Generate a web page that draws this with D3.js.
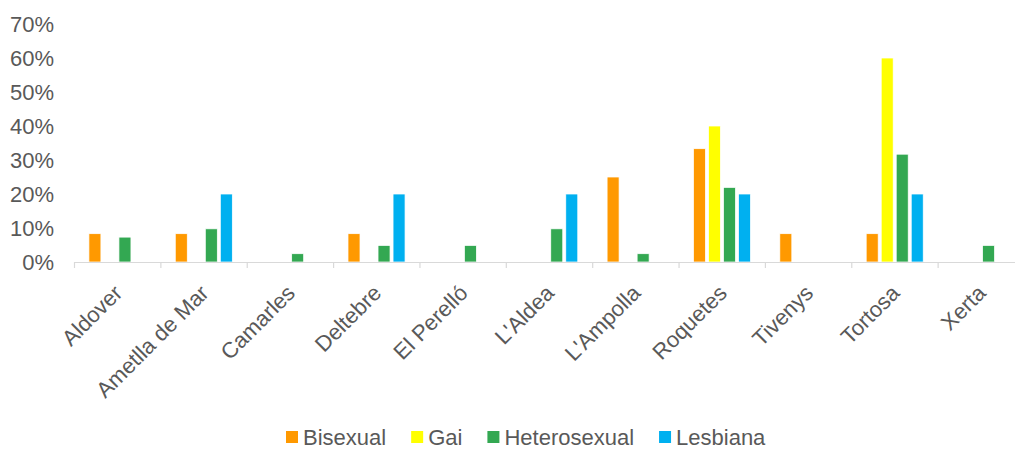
<!DOCTYPE html>
<html>
<head>
<meta charset="utf-8">
<script src="https://cdn.jsdelivr.net/npm/d3@7"></script>
<style>
  body { margin: 0; background: #fff; }
  text { font-family: "Liberation Sans", Arial, sans-serif; fill: #595959; }
</style>
</head>
<body>
<div id="chart"></div>
<script>
// Data
var towns = ["Aldover", "Ametlla de Mar", "Camarles", "Deltebre", "El Perelló", "L'Aldea",
             "L'Ampolla", "Roquetes", "Tivenys", "Tortosa", "Xerta"];
var groups = ["Bisexual", "Gai", "Heterosexual", "Lesbiana"];
var bisexual     = [8.33, 8.33, 0, 8.33, 0, 0, 25, 33.33, 8.33, 8.33, 0];
var gai          = [0, 0, 0, 0, 0, 0, 0, 40, 0, 60, 0];
var heterosexual = [7.32, 9.76, 2.44, 4.88, 4.88, 9.76, 2.44, 21.95, 0, 31.71, 4.88];
var lesbiana     = [0, 20, 0, 20, 0, 20, 0, 20, 0, 20, 0];
var yTicks = [0, 10, 20, 30, 40, 50, 60, 70];
var colors = ["#FF9900", "#FFFF00", "#33A852", "#00B0F0"];

var series = [bisexual, gai, heterosexual, lesbiana];

var svgWidth = 1015, svgHeight = 449;
var svg = d3.select("#chart").append("svg")
  .attr("width", svgWidth)
  .attr("height", svgHeight);

// plot area
var plotLeft = 74, plotRight = 1024, plotTop = 24, plotBottom = 262;

var x0 = d3.scaleBand().domain(towns).range([plotLeft, plotRight]);
var x1 = d3.scaleBand().domain(groups)
  .range([11.9, x0.bandwidth() - 11.4])
  .padding(0.2);
var y = d3.scaleLinear().domain([0, 70]).range([plotBottom, plotTop]);

// y labels
svg.append("g").selectAll("text")
  .data(yTicks).enter()
  .append("text")
  .attr("x", 54)
  .attr("y", d => y(d))
  .attr("dy", "0.35em")
  .attr("text-anchor", "end")
  .style("font-size", "22px")
  .text(d => d + "%");

// bars
var townG = svg.append("g").selectAll("g")
  .data(towns).enter()
  .append("g")
  .attr("transform", d => `translate(${x0(d)},0)`);

townG.selectAll("rect")
  .data((t, i) => groups.map((g, j) => ({group: g, value: series[j][i], color: colors[j]})))
  .enter()
  .filter(d => d.value > 0)
  .append("rect")
  .attr("x", d => x1(d.group))
  .attr("width", x1.bandwidth())
  .attr("y", d => y(d.value))
  .attr("height", d => y(0) - y(d.value))
  .attr("fill", d => d.color)
  .attr("stroke", "#fff")
  .attr("stroke-width", 0.75);

// x axis line and ticks
var axisG = svg.append("g");
axisG.append("line")
  .attr("x1", plotLeft).attr("x2", plotRight)
  .attr("y1", plotBottom + 0.5).attr("y2", plotBottom + 0.5)
  .attr("stroke", "#D9D9D9").attr("stroke-width", 1.2);
axisG.selectAll("line.tk")
  .data(towns).enter()
  .append("line")
  .attr("class", "tk")
  .attr("x1", d => x0(d) + 0.5).attr("x2", d => x0(d) + 0.5)
  .attr("y1", plotBottom).attr("y2", plotBottom + 6)
  .attr("stroke", "#D9D9D9").attr("stroke-width", 1.2);

// rotated category labels
svg.append("g").selectAll("text")
  .data(towns).enter()
  .append("text")
  .attr("transform", d => `translate(${x0(d) + x0.bandwidth() / 2 + 1},${plotBottom + 27}) rotate(-45)`)
  .attr("text-anchor", "end")
  .attr("dy", "0.35em")
  .style("font-size", "22px")
  .text(d => d);

// legend
var legend = svg.append("g");
var lx = 286;
groups.forEach(function(g, j) {
  legend.append("rect")
    .attr("x", lx).attr("y", 431)
    .attr("width", 12).attr("height", 12)
    .attr("fill", colors[j]);
  var t = legend.append("text")
    .attr("x", lx + 17).attr("y", 437)
    .attr("dy", "0.35em")
    .style("font-size", "22px")
    .text(g);
  lx += 17 + t.node().getComputedTextLength() + 25;
});
</script>
</body>
</html>
